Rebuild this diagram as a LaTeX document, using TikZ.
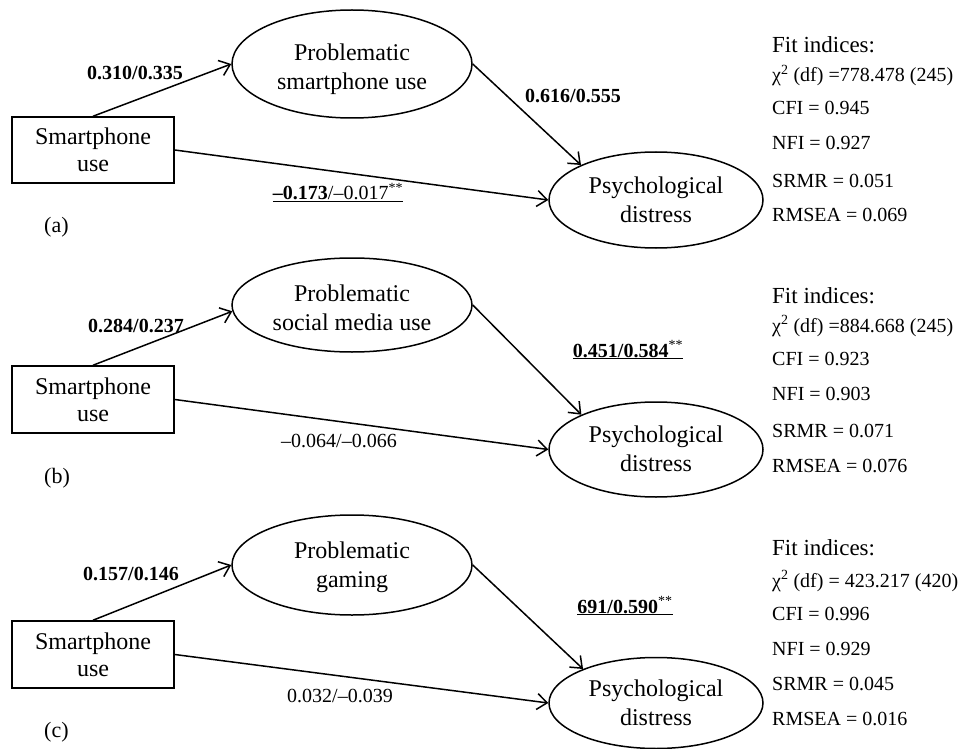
\documentclass[tikz,border=0pt]{standalone}
\usepackage{fontspec}
\setmainfont{Liberation Serif}
\usetikzlibrary{shapes.geometric,arrows.meta}
\newcommand\lowtext[2]{\raisebox{-#1}[\height][\depth]{\begin{tabular}{@{}c@{}}#2\end{tabular}}}
\begin{document}
\begin{tikzpicture}[x=1pt,y=-1pt,
  boxnode/.style={draw,line width=1.5pt,rectangle,minimum width=162pt,inner sep=0pt,font=\fontsize{24}{27}\selectfont},
  ellnode/.style={draw,line width=1.5pt,ellipse,inner sep=0pt,font=\fontsize{24}{29}\selectfont},
  conn/.style={line width=1.5pt,-{Straight Barb[length=10pt,width=16pt,line width=1.5pt]}},
  coef/.style={anchor=base,inner sep=0pt,font=\fontsize{20}{24}\selectfont},
  fitline/.style={anchor=base west,inner sep=0pt,font=\fontsize{20}{24}\selectfont},
  fittitle/.style={anchor=base west,inner sep=0pt,font=\fontsize{23}{27}\selectfont},
  panel/.style={anchor=base west,inner sep=0pt,font=\fontsize{22}{26}\selectfont}]
\useasboundingbox (0,0) rectangle (959,749);

% ---------- panel (a) ----------
\node[boxnode,minimum height=66pt] (sa) at (93,150) {\lowtext{3pt}{Smartphone\\use}};
\node[ellnode,minimum width=240pt,minimum height=108pt] (pa) at (352,64) {\lowtext{5pt}{Problematic\\smartphone use}};
\node[ellnode,minimum width=214pt,minimum height=96pt] (da) at (656,200) {\lowtext{2pt}{Psychological\\distress}};
\draw[conn] (sa.north) -- (pa.west);
\draw[conn] (pa.east) -- (da.155);
\draw[conn] (sa.east) -- (da.west);
\node[coef] (la1) at (135,80) {\textbf{0.310/0.335}};
\node[coef] (la2) at (573,103) {\textbf{0.616/0.555}};
\node[coef] (la3) at (338,200) {\underline{\textbf{–0.173}/–0.017\textsuperscript{**}}};
\node[panel] (tagA) at (44,233) {(a)};
\node[fittitle] (fa0) at (772,53) {Fit indices:};
\node[fitline] (fa1) at (772,82) {χ\textsuperscript{2} (df) =778.478 (245)};
\node[fitline] (fa2) at (772,115) {CFI = 0.945};
\node[fitline] (fa3) at (772,150) {NFI = 0.927};
\node[fitline] (fa4) at (772,187) {SRMR = 0.051};
\node[fitline] (fa5) at (772,222) {RMSEA = 0.069};

% ---------- panel (b) ----------
\node[boxnode,minimum height=67pt] (sb) at (93,399.5) {\lowtext{3pt}{Smartphone\\use}};
\node[ellnode,minimum width=240pt,minimum height=94pt] (pb) at (352,305) {\lowtext{5pt}{Problematic\\social media use}};
\node[ellnode,minimum width=214pt,minimum height=95pt] (db) at (656,449.5) {\lowtext{2pt}{Psychological\\distress}};
\draw[conn] (sb.north) -- (pb.183);
\draw[conn] (pb.east) -- (db.155);
\draw[conn] (sb.east) -- (db.west);
\node[coef] (lb1) at (136,332) {\textbf{0.284/0.237}};
\node[coef] (lb2) at (628,357) {\underline{\textbf{0.451/0.584}\textsuperscript{**}}};
\node[coef] (lb3) at (339,447) {–0.064/–0.066};
\node[panel] (tagB) at (44,483) {(b)};
\node[fittitle] (fb0) at (772,303) {Fit indices:};
\node[fitline] (fb1) at (772,332) {χ\textsuperscript{2} (df) =884.668 (245)};
\node[fitline] (fb2) at (772,365) {CFI = 0.923};
\node[fitline] (fb3) at (772,400) {NFI = 0.903};
\node[fitline] (fb4) at (772,437) {SRMR = 0.071};
\node[fitline] (fb5) at (772,472) {RMSEA = 0.076};

% ---------- panel (c) ----------
\node[boxnode,minimum height=67pt] (sc) at (93,654.5) {\lowtext{3pt}{Smartphone\\use}};
\node[ellnode,minimum width=240pt,minimum height=100pt] (pc) at (352,565) {\lowtext{2pt}{Problematic\\gaming}};
\node[ellnode,minimum width=214pt,minimum height=91pt] (dc) at (656,703) {\lowtext{2pt}{Psychological\\distress}};
\draw[conn] (sc.north) -- (pc.west);
\draw[conn] (pc.east) -- (dc.155);
\draw[conn] (sc.east) -- (dc.west);
\node[coef] (lc1) at (131,580) {\textbf{0.157/0.146}};
\node[coef] (lc2) at (625,613) {\underline{\textbf{691/0.590}\textsuperscript{**}}};
\node[coef] (lc3) at (340,702) {0.032/–0.039};
\node[panel] (tagC) at (44,737) {(c)};
\node[fittitle] (fc0) at (772,555) {Fit indices:};
\node[fitline] (fc1) at (772,587) {χ\textsuperscript{2} (df) = 423.217 (420)};
\node[fitline] (fc2) at (772,620) {CFI = 0.996};
\node[fitline] (fc3) at (772,655) {NFI = 0.929};
\node[fitline] (fc4) at (772,690) {SRMR = 0.045};
\node[fitline] (fc5) at (772,725) {RMSEA = 0.016};
\end{tikzpicture}
\end{document}
